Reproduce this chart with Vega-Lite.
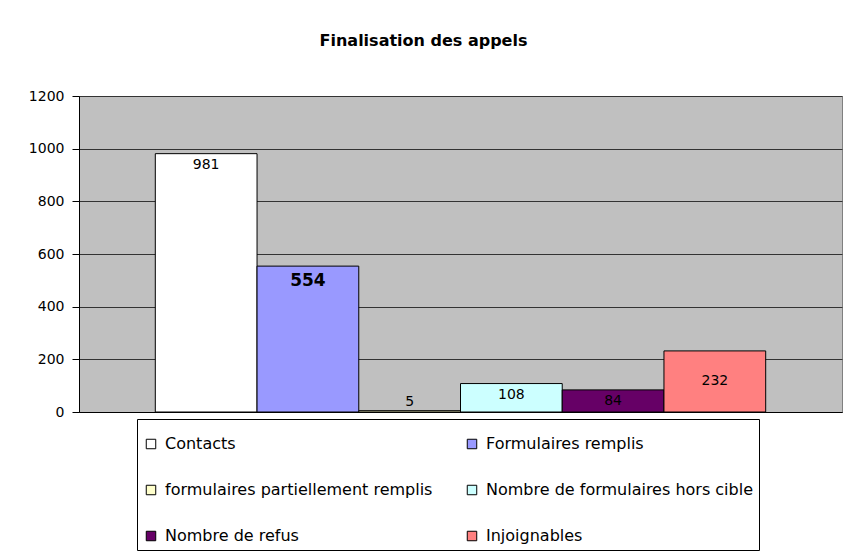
{
  "$schema": "https://vega.github.io/schema/vega-lite/v6.json",
  "width": 763,
  "height": 316,
  "autosize": "none",
  "padding": {"left": 79, "top": 96, "right": 5, "bottom": 145},
  "background": "white",
  "title": {
    "text": "Finalisation des appels",
    "font": "DejaVu Sans",
    "fontSize": 16,
    "fontWeight": "bold",
    "color": "black",
    "anchor": "middle",
    "dx": -37,
    "offset": 27,
    "baseline": "alphabetic"
  },
  "data": {
    "values": [
      {"cat": "Contacts", "value": 981},
      {"cat": "Formulaires remplis", "value": 554},
      {"cat": "formulaires partiellement remplis", "value": 5},
      {"cat": "Nombre de formulaires hors cible", "value": 108},
      {"cat": "Nombre de refus", "value": 84},
      {"cat": "Injoignables", "value": 232}
    ]
  },
  "encoding": {
    "x": {
      "field": "cat",
      "type": "nominal",
      "sort": null,
      "scale": {"paddingInner": 0, "paddingOuter": 0.75},
      "axis": {"labels": false, "ticks": false, "title": null, "grid": false, "domain": true, "domainColor": "black", "domainWidth": 1}
    },
    "y": {
      "field": "value",
      "type": "quantitative",
      "scale": {"domain": [0, 1200], "nice": false},
      "axis": {
        "values": [0, 200, 400, 600, 800, 1000, 1200],
        "format": "d",
        "title": null,
        "grid": true,
        "gridColor": "#333333",
        "gridWidth": 1,
        "tickSize": 7,
        "tickColor": "black",
        "domainColor": "black",
        "labelFont": "DejaVu Sans",
        "labelFontSize": 14,
        "labelColor": "black",
        "labelPadding": 8
      }
    }
  },
  "layer": [
    {
      "mark": {"type": "bar", "stroke": "black", "strokeWidth": 1, "opacity": 1},
      "encoding": {
        "color": {
          "field": "cat",
          "type": "nominal",
          "scale": {
            "domain": ["Contacts", "formulaires partiellement remplis", "Nombre de refus", "Formulaires remplis", "Nombre de formulaires hors cible", "Injoignables"],
            "range": ["#FFFFFF", "#FFFFCC", "#660066", "#9999FF", "#CCFFFF", "#FF8080"]
          },
          "legend": {
            "orient": "none",
            "legendX": 58,
            "legendY": 323,
            "columns": 2,
            "title": " ",
            "titleFontSize": 8,
            "titlePadding": 3,
            "symbolType": "square",
            "symbolSize": 90,
            "symbolStrokeColor": "black",
            "symbolStrokeWidth": 1,
            "symbolOpacity": 1,
            "labelFont": "DejaVu Sans",
            "labelFontSize": 16,
            "labelColor": "black",
            "labelOffset": 6,
            "labelLimit": 500,
            "columnPadding": 31,
            "rowPadding": 30,
            "padding": 6,
            "fillColor": "white",
            "strokeColor": "black",
            "cornerRadius": 0
          }
        }
      }
    },
    {
      "transform": [{"filter": "datum.cat == 'Contacts'"}],
      "mark": {"type": "text", "font": "DejaVu Sans", "fontSize": 14, "color": "black", "baseline": "top", "dy": 4},
      "encoding": {"text": {"field": "value", "type": "quantitative"}}
    },
    {
      "transform": [{"filter": "datum.cat == 'Formulaires remplis'"}],
      "mark": {"type": "text", "font": "DejaVu Sans", "fontSize": 17, "fontWeight": "bold", "color": "black", "baseline": "top", "dy": 7},
      "encoding": {"text": {"field": "value", "type": "quantitative"}}
    },
    {
      "transform": [{"filter": "datum.cat == 'formulaires partiellement remplis'"}],
      "mark": {"type": "text", "font": "DejaVu Sans", "fontSize": 14, "color": "black", "baseline": "bottom", "dy": -2},
      "encoding": {"text": {"field": "value", "type": "quantitative"}}
    },
    {
      "transform": [{"filter": "datum.cat == 'Nombre de formulaires hors cible' || datum.cat == 'Nombre de refus'"}],
      "mark": {"type": "text", "font": "DejaVu Sans", "fontSize": 14, "color": "black", "baseline": "middle", "dy": 11},
      "encoding": {"text": {"field": "value", "type": "quantitative"}}
    },
    {
      "transform": [{"filter": "datum.cat == 'Injoignables'"}],
      "mark": {"type": "text", "font": "DejaVu Sans", "fontSize": 14, "color": "black", "baseline": "middle", "dy": 30},
      "encoding": {"text": {"field": "value", "type": "quantitative"}}
    }
  ],
  "config": {
    "view": {"fill": "#C0C0C0", "stroke": "#808080", "strokeWidth": 1}
  }
}
